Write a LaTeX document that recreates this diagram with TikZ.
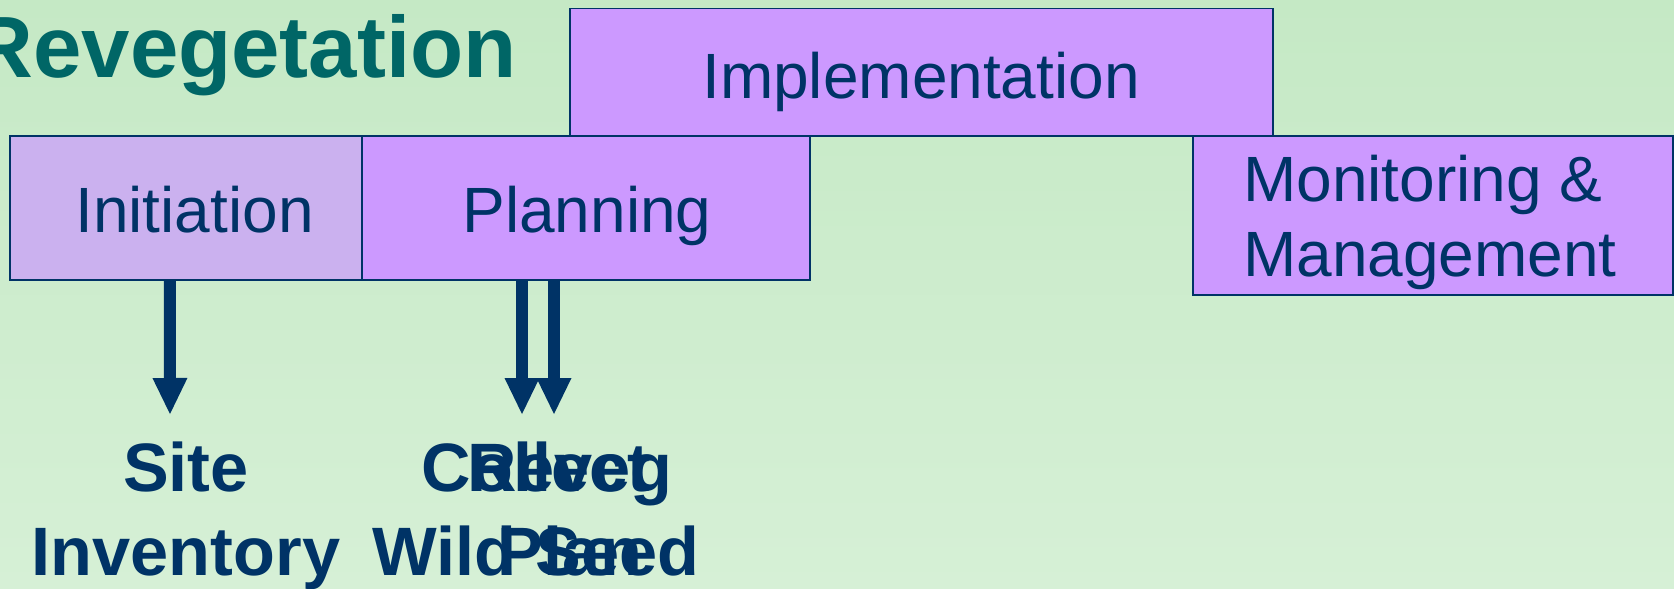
\documentclass[tikz,border=0pt]{standalone}
\usepackage{fontspec}
\setmainfont{Liberation Sans}
\usetikzlibrary{arrows.meta}
\definecolor{navy}{HTML}{003366}
\definecolor{titleteal}{HTML}{006666}
\definecolor{lilac}{HTML}{CC99FF}
\definecolor{lilacpale}{HTML}{CBB1EF}
\definecolor{bgtop}{HTML}{C5E9C5}
\definecolor{bgbot}{HTML}{D6F0D6}
\begin{document}
\begin{tikzpicture}[x=1pt,y=-1pt,
  box/.style={draw=navy,line width=1.8pt,fill=lilac,inner sep=0pt,outer sep=0pt,anchor=north west},
  boxtext/.style={text=navy,inner sep=0pt,anchor=base,font=\fontsize{64}{76}\selectfont},
  lbl/.style={text=navy,inner sep=0pt,anchor=base,font=\fontsize{68.5}{82}\selectfont\bfseries},
  arr/.style={draw=navy,line width=12pt,-{Triangle[width=35pt,length=36pt,line width=0pt,fill=navy]}}
]
\useasboundingbox (0,0) rectangle (1674,589);
\fill[top color=bgtop,bottom color=bgbot] (0,0) rectangle (1674,589);

% title
\node[text=titleteal,inner sep=0pt,anchor=base east,font=\fontsize{87}{100}\selectfont\bfseries] (title) at (517,77) {Revegetation};

% boxes (geometry)
\node[box,minimum width=703pt,minimum height=127.5pt] (impl) at (570,8.5) {};
\node[box,fill=lilacpale,minimum width=352.4pt,minimum height=144pt] (init) at (9.6,136) {};
\node[box,minimum width=448pt,minimum height=144pt] (plan) at (362,136) {};
\node[box,minimum width=480pt,minimum height=159pt] (mon) at (1193,136) {};

% arrow end points
\coordinate (tA) at (170,414);
\coordinate (tB) at (522,414);
\coordinate (tC) at (554,414);
\draw[arr] ([xshift=-16pt]init.south) -- (tA);
\draw[arr] ([xshift=-64pt]plan.south) -- (tB);
\draw[arr] ([xshift=-32pt]plan.south) -- (tC);

% box texts
\node[boxtext] (implt) at (921,98) {Implementation};
\node[boxtext] (initt) at (194.5,232) {Initiation};
\node[boxtext] (plant) at (587,232) {Planning};
\node[boxtext,anchor=base west] (mona) at (1243,201.5) {Monitoring \&};
\node[boxtext,anchor=base west] (monb) at (1243,276.5) {Management};

% bottom labels
\node[lbl] (sitea) at (186,491.7) {Site};
\node[lbl] (siteb) at (186,575) {Inventory};
\node[lbl] (cola) at (536,491.7) {Collect};
\node[lbl] (colb) at (536,575) {Wild Seed};
\node[lbl] (reva) at (570,491.7) {Reveg};
\node[lbl] (revb) at (570,575) {Plan};
\end{tikzpicture}
\end{document}
